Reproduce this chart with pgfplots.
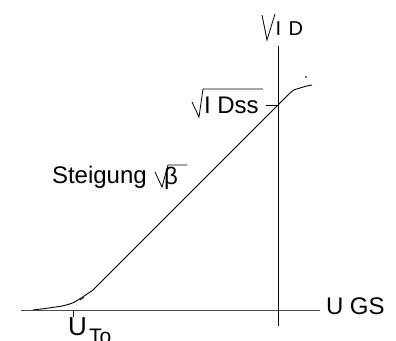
\documentclass[border=0pt]{standalone}
\usepackage{pgfplots}
\pgfplotsset{compat=1.18}
\usepackage{fontspec}
\setmainfont{Liberation Sans}
\tikzset{lbl/.style={inner sep=0pt, outer sep=0pt, anchor=base west,
              font=\fontsize{24bp}{28bp}\selectfont}}

\begin{document}
\begin{tikzpicture}
\begin{axis}[
  scale only axis, width=396bp, height=341bp,
  xmin=0, xmax=396, ymin=0, ymax=341, y dir=reverse,
  axis lines=none, clip=false,
]
% coordinate axes of the characteristic
\draw[black!70, line width=1bp] (axis cs:21,310) -- (axis cs:320,310);
\draw[black, line width=1bp] (axis cs:278,46) -- (axis cs:278,326);
% threshold voltage tick and I_Dss tick
\draw[black, line width=0.8bp] (axis cs:73,310) -- (axis cs:73,317);
\draw[black, line width=0.8bp] (axis cs:266,105) -- (axis cs:278,105);

% sqrt(I_D) versus U_GS
\addplot[black, line width=0.9bp, smooth, tension=0.4] coordinates {
  (33,310) (43,308.8) (53,307.4) (63,305.8) (73,302.8) (83,296.8)
  (90,292) (95,288) (133,250) (187,196) (230,153) (278,105)
  (286,97) (293,90.5) (300,88) (306,86.2) (312,85)
};
% small stray strokes of the sketch
\addplot[black, line width=0.7bp] coordinates {(80,300) (84,297.5)};
\addplot[black, only marks, mark=*, mark size=0.5bp] coordinates {(306,77)};

% axis labels
\draw[black, line width=0.8bp] (axis cs:262,15) -- (axis cs:267,40) -- (axis cs:275,14);
\node[lbl, font=\fontsize{20bp}{24bp}\selectfont] at (axis cs:275.5,36) {I};
\node[lbl, font=\fontsize{20bp}{24bp}\selectfont] at (axis cs:288.5,36) {D};
\node[lbl] at (axis cs:326,314) {U GS};

% sqrt(I_Dss)
\draw[black, line width=0.8bp] (axis cs:192,102) -- (axis cs:199,117) -- (axis cs:203,89) -- (axis cs:263,89);
\node[lbl] at (axis cs:204,113) {I Dss};

% slope label
\node[lbl] at (axis cs:52,183) {Steigung};
\draw[black, line width=0.8bp] (axis cs:155,172) -- (axis cs:162,187) -- (axis cs:168,165) -- (axis cs:187,165);
\node[lbl, font=\fontsize{24bp}{28bp}\selectfont] at (axis cs:164,184) {β};

% threshold voltage label
\node[lbl, font=\fontsize{26bp}{30bp}\selectfont] at (axis cs:68,335) {U};
\node[lbl, font=\fontsize{21bp}{25bp}\selectfont] at (axis cs:89,343) {To};
\end{axis}
\pgfresetboundingbox
\path[use as bounding box] (0,0) rectangle (396bp,341bp);
\end{tikzpicture}
\end{document}
